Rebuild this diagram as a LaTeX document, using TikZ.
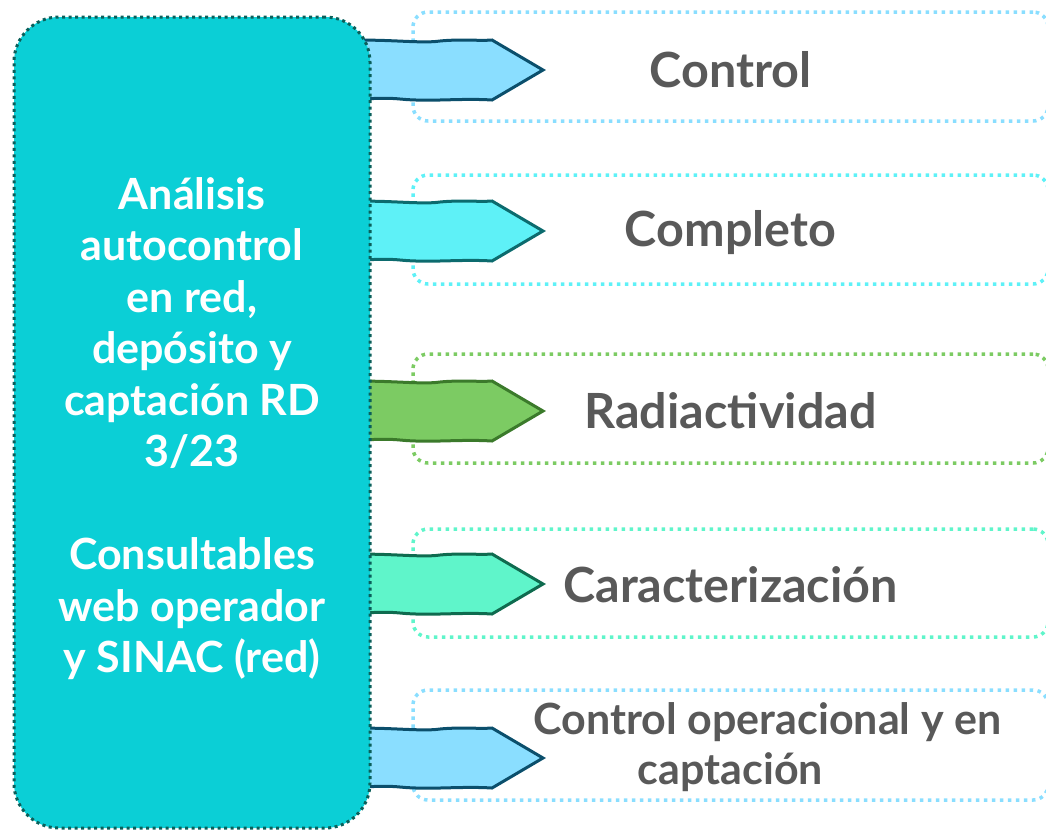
\documentclass[tikz,border=0pt]{standalone}
\usepackage{fontspec}
\setmainfont{Lato}
\usepackage{tikz}
\usetikzlibrary{positioning,calc}
\definecolor{mainfill}{HTML}{0BCFD6}
\definecolor{mainedge}{HTML}{0B5F5A}
\definecolor{skyfill}{HTML}{8ADEFF}
\definecolor{skyedge}{HTML}{0B4F6C}
\definecolor{cyanfill}{HTML}{5EF1F7}
\definecolor{cyanedge}{HTML}{0C6B6E}
\definecolor{grassfill}{HTML}{7CCB63}
\definecolor{grassedge}{HTML}{3B7A2B}
\definecolor{mintfill}{HTML}{5FF5CA}
\definecolor{mintedge}{HTML}{0F6B4F}
\definecolor{labelink}{HTML}{595959}
\tikzset{
  mainbox/.style={draw=mainedge,fill=mainfill,line width=3pt,
                  dash pattern=on 3pt off 3.5pt,rounded corners=45pt,
                  minimum width=356pt,minimum height=811pt},
  maintext/.style={align=center,text=white,
                  font=\fontsize{43}{51.5}\selectfont\bfseries},
  labelbox/.style={draw=#1,line width=3.5pt,dash pattern=on 3.5pt off 4.5pt,
                   rounded corners=15pt,minimum width=635pt},
  labeltext/.style={align=center,text=labelink,
                   font=\fontsize{48.5}{50}\selectfont\bfseries},
  tagarrow/.style 2 args={fill=#1,draw=#2,line width=3pt,line join=miter}
}
\begin{document}
\begin{tikzpicture}[x=1pt,y=-1pt]
  \useasboundingbox (0,0) rectangle (1046,831);
  \clip (0,0) rectangle (1046,831);
  % dotted label boxes
  \node[labelbox=skyfill,minimum height=109pt] (lab1) at (730.5,66.5) {};
  \node[labelbox=cyanfill,minimum height=109pt] (lab2) at (730.5,229.5) {};
  \node[labelbox=grassfill,minimum height=109pt] (lab3) at (730.5,408.5) {};
  \node[labelbox=mintfill,minimum height=108pt] (lab4) at (730.5,583) {};
  \node[labelbox=skyfill,minimum height=110pt] (lab5) at (730.5,745) {};
  \node[labeltext] (txt1) at ($(lab1.center)+(0,3)$) {Control};
  \node[labeltext] (txt2) at ($(lab2.center)+(0,3)$) {Completo};
  \node[labeltext] (txt3) at ($(lab3.center)+(0,2)$) {Radiactividad};
  \node[labeltext] (txt4) at ($(lab4.center)+(0,2)$) {Caracterización};
  \node[labeltext,font=\fontsize{43}{50}\selectfont\bfseries] (txt5)
    at ($(lab5.center)+(0,2)$) {\hspace*{74pt}Control operacional y en\\captación};
  % arrows
  \foreach \cy/\fc/\dc in {70/skyfill/skyedge,231/cyanfill/cyanedge,
                           411/grassfill/grassedge,584/mintfill/mintedge,
                           758/skyfill/skyedge} {
    \draw[tagarrow={\fc}{\dc}] (340,\cy-29)
      .. controls (380,\cy-32) and (420,\cy-26) .. (440,\cy-29)
      .. controls (460,\cy-31) and (480,\cy-29) .. (492,\cy-30)
      -- (543,\cy) -- (492,\cy+30)
      .. controls (460,\cy+28) and (430,\cy+32) .. (400,\cy+29)
      .. controls (380,\cy+27) and (360,\cy+30) .. (340,\cy+29) -- cycle;
  }
  % main box
  \node[mainbox] (main) at (192,422.5) {};
  \node[maintext] (maintxt) at ($(main.center)+(0,6)$) {An\'alisis\\autocontrol\\en red,\\dep\'osito y\\captaci\'on RD\\3/23\\[51.5pt]Consultables\\web operador\\y SINAC (red)};
\end{tikzpicture}
\end{document}
